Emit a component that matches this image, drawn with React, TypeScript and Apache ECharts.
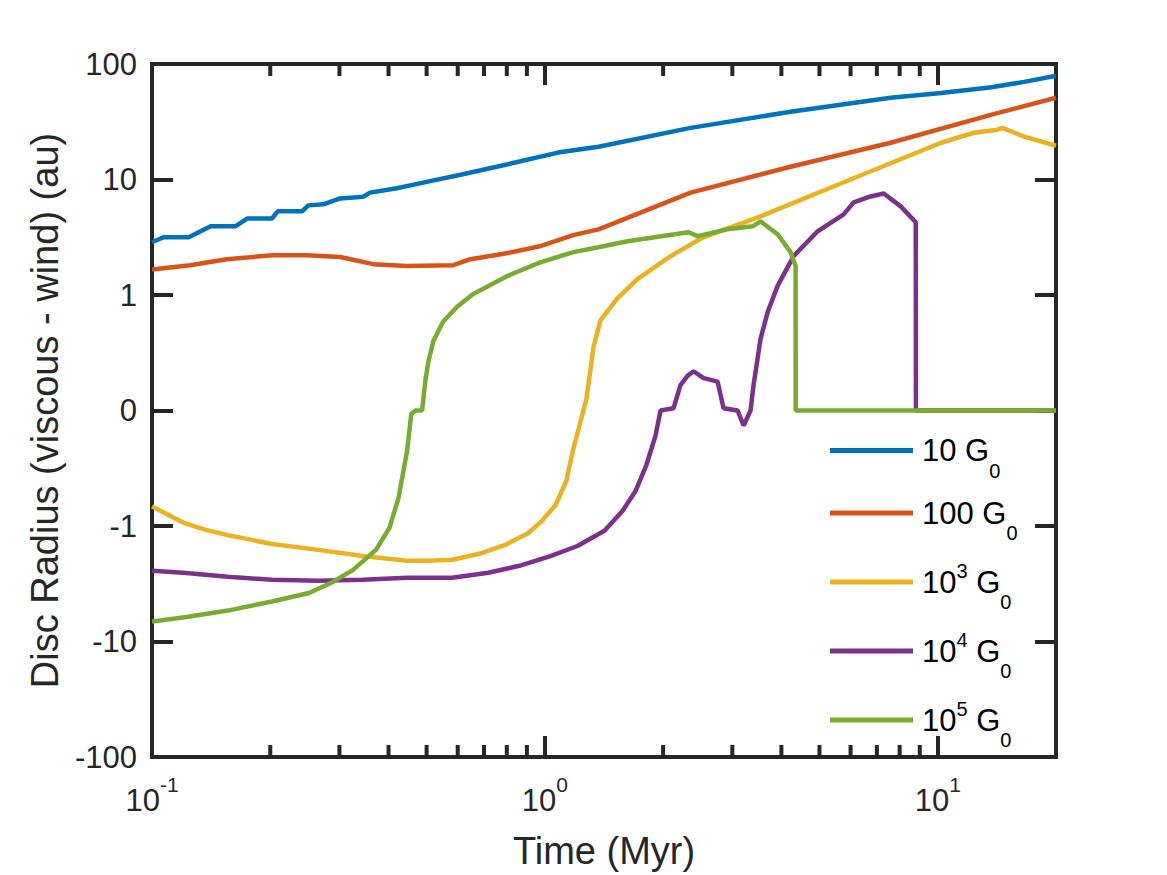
import React, { useEffect, useRef } from "react";
import * as echarts from "echarts";

// ---- Data (time in Myr, disc radius in au) ----
const SERIES_NAMES = ["10 G0", "100 G0", "10^3 G0", "10^4 G0", "10^5 G0"];
const LEGEND_MAIN = ["10", "100", "10", "10", "10"];
const LEGEND_SUP = ["", "", "3", "4", "5"];
const COLORS = ["#0072BD", "#D95319", "#EDB120", "#7E2F8E", "#77AC30"];

const G10: [number, number][] = [
  [0.1, 2.86], [0.107, 3.16], [0.124, 3.16], [0.141, 3.93], [0.163, 3.93],
  [0.175, 4.6], [0.202, 4.6], [0.209, 5.3], [0.241, 5.3], [0.25, 5.97],
  [0.273, 6.1], [0.301, 6.86], [0.345, 7.1], [0.359, 7.7], [0.42, 8.4],
  [0.49, 9.4], [0.61, 11.0], [0.8, 13.5], [1.08, 17.1], [1.37, 19.2],
  [2.35, 28], [4.22, 38.6], [7.59, 51], [10.2, 56], [13.7, 63], [16.6, 70], [20, 79],
];
const G100: [number, number][] = [
  [0.1, 1.66], [0.125, 1.81], [0.155, 2.04], [0.203, 2.21], [0.248, 2.21],
  [0.301, 2.13], [0.366, 1.85], [0.446, 1.78], [0.585, 1.81], [0.646, 2.04],
  [0.8, 2.3], [0.97, 2.64], [1.18, 3.3], [1.37, 3.7], [2.35, 7.7],
  [4.22, 12.9], [7.59, 20.8], [13.65, 36.3], [20, 51],
];
const G1E3: [number, number][] = [
  [0.1, -0.83], [0.108, -0.89], [0.12, -0.97], [0.137, -1.08], [0.156, -1.2],
  [0.202, -1.43], [0.265, -1.61], [0.343, -1.82], [0.446, -2.0], [0.508, -2.0],
  [0.581, -1.96], [0.681, -1.74], [0.793, -1.46], [0.908, -1.15], [0.98, -0.96],
  [1.064, -0.82], [1.134, -0.61], [1.182, -0.33], [1.225, -0.13], [1.276, 0.1],
  [1.33, 0.55], [1.385, 0.78], [1.53, 0.97], [1.72, 1.37], [2.09, 2.17],
  [2.53, 3.16], [3.54, 4.8], [6.0, 10], [10.2, 20.8], [12.35, 25.4],
  [14.2, 27], [14.6, 28], [16.6, 23.5], [20, 19.6],
];
const G1E4: [number, number][] = [
  [0.1, -2.44], [0.12, -2.54], [0.156, -2.75], [0.202, -2.92], [0.265, -2.98],
  [0.343, -2.92], [0.446, -2.81], [0.581, -2.81], [0.718, -2.54], [0.861, -2.21],
  [1.033, -1.82], [1.21, -1.49], [1.418, -1.1], [1.576, -0.87], [1.7, -0.7],
  [1.814, -0.47], [1.912, -0.22], [1.97, 0], [2.126, 0.02], [2.214, 0.22],
  [2.307, 0.3], [2.39, 0.34], [2.534, 0.28], [2.752, 0.25], [2.85, 0.02],
  [3.094, 0], [3.205, -0.13], [3.339, 0], [3.398, 0.22], [3.54, 0.62],
  [3.689, 0.85], [3.912, 1.2], [4.297, 2.17], [4.946, 3.56], [5.762, 4.99],
  [6.109, 6.34], [6.75, 7.13], [7.285, 7.57], [8.05, 5.85], [8.79, 4.26],
  [8.8, 0], [20, 0],
];
const G1E5: [number, number][] = [
  [0.1, -6.7], [0.12, -6.2], [0.156, -5.4], [0.202, -4.5], [0.251, -3.8],
  [0.286, -3.1], [0.325, -2.4], [0.372, -1.6], [0.402, -1.04], [0.424, -0.76],
  [0.446, -0.35], [0.457, -0.03], [0.468, 0], [0.487, 0], [0.496, 0.25],
  [0.505, 0.42], [0.52, 0.6], [0.551, 0.77], [0.599, 0.9], [0.657, 1.02],
  [0.803, 1.46], [0.974, 1.92], [1.182, 2.35], [1.369, 2.59], [1.623, 2.92],
  [2.321, 3.49], [2.446, 3.23], [2.917, 3.71], [3.379, 3.93], [3.54, 4.34],
  [3.912, 3.36], [4.22, 2.35], [4.347, 1.78], [4.35, 0], [20, 0],
];
const ALL_SERIES = [G10, G100, G1E3, G1E4, G1E5];

const Y_TICKS = [-3, -2, -1, 0, 1, 2, 3];
const Y_TICK_LABELS = ["-100", "-10", "-1", "0", "1", "10", "100"];
const X_MINOR_TICKS = [0.2, 0.3, 0.4, 0.5, 0.6, 0.7, 0.8, 0.9, 2, 3, 4, 5, 6, 7, 8, 9];

const FONT = "Liberation Sans, Arial, Helvetica, sans-serif";
const AX = "#262626";

// symmetric log transform: linear in [-1, 1], log outside
const sym = (v: number) =>
  Math.abs(v) <= 1 ? v : Math.sign(v) * (1 + Math.log10(Math.abs(v)));

export default function App() {
  const ref = useRef<HTMLDivElement>(null);
  useEffect(() => {
    if (!ref.current) return;
    const chart = echarts.init(ref.current, undefined, { renderer: "svg" });

    const axisCommonX = {
      type: "log" as const,
      logBase: 10,
      min: 0.1,
      max: 20,
      splitLine: { show: false },
      axisLine: { show: true, onZero: false, lineStyle: { color: AX, width: 4, cap: "square" } },
      axisTick: { show: true, inside: true, length: 21, lineStyle: { color: AX, width: 4 } },
    };
    const axisCommonY = {
      type: "value" as const,
      min: -3,
      max: 3,
      interval: 1,
      splitLine: { show: false },
      axisLine: { show: true, onZero: false, lineStyle: { color: AX, width: 4, cap: "square" } },
      axisTick: { show: true, inside: true, length: 21, lineStyle: { color: AX, width: 4 } },
    };

    const option: any = {
      animation: false,
      backgroundColor: "#fff",
      grid: { left: 152, right: 111, top: 64, bottom: 115, containLabel: false },
      legend: {
        show: true,
        orient: "vertical",
        left: 830,
        top: 435,
        padding: 0,
        itemWidth: 83,
        itemHeight: 5,
        itemGap: 17,
        icon: "rect",
        data: SERIES_NAMES,
        formatter: (name: string) => {
          const i = SERIES_NAMES.indexOf(name);
          const sup = LEGEND_SUP[i] ? `{sup|${LEGEND_SUP[i]}}` : "";
          return `{m|${LEGEND_MAIN[i]}}${sup}{m| G}{sub|0}`;
        },
        textStyle: {
          color: "#000",
          fontFamily: FONT,
          fontSize: 31,
          padding: [0, 0, 0, 4],
          rich: {
            m: { fontSize: 31, lineHeight: 44, color: "#000", fontFamily: FONT },
            sup: { fontSize: 20, height: 22, lineHeight: 22, verticalAlign: "top", color: "#000", fontFamily: FONT },
            sub: { fontSize: 20, height: 4, lineHeight: 4, verticalAlign: "bottom", color: "#000", fontFamily: FONT },
          },
        },
      },
      xAxis: [
        {
          ...axisCommonX,
          position: "bottom",
          name: "Time (Myr)",
          nameLocation: "middle",
          nameGap: 75,
          nameTextStyle: { fontSize: 38, color: AX, fontFamily: FONT },
          axisLabel: {
            show: true,
            margin: 23,
            showMaxLabel: false,
            color: AX,
            fontFamily: FONT,
            formatter: (v: number) => {
              const e = Math.log10(v);
              const r = Math.round(e);
              if (Math.abs(e - r) > 1e-6) return "";
              return `{b|10}{s|${r}}`;
            },
            rich: {
              b: { fontSize: 31, lineHeight: 40, color: AX, fontFamily: FONT },
              s: { fontSize: 21, height: 9, lineHeight: 9, verticalAlign: "top", color: AX, fontFamily: FONT },
            },
          },
        },
        {
          ...axisCommonX,
          position: "top",
          axisLabel: { show: false },
        },
      ],
      yAxis: [
        {
          ...axisCommonY,
          position: "left",
          name: "Disc Radius (viscous - wind) (au)",
          nameLocation: "middle",
          nameGap: 88,
          nameTextStyle: { fontSize: 38, color: AX, fontFamily: FONT },
          axisLabel: {
            show: true,
            margin: 15,
            fontSize: 31,
            color: AX,
            fontFamily: FONT,
            formatter: (v: number) => {
              const i = Y_TICKS.indexOf(Math.round(v));
              return i >= 0 ? Y_TICK_LABELS[i] : "";
            },
          },
        },
        {
          ...axisCommonY,
          position: "right",
          axisLabel: { show: false },
        },
      ],
      series: [
        ...ALL_SERIES.map((d, i) => ({
          name: SERIES_NAMES[i],
          type: "line",
          xAxisIndex: 0,
          yAxisIndex: 0,
          symbol: "none",
          showSymbol: false,
          color: COLORS[i],
          lineStyle: { color: COLORS[i], width: 4.5 },
          itemStyle: { color: COLORS[i] },
          data: d.map(([t, v]) => [t, sym(v)]),
          z: 2 + i,
        })),
        {
          name: "minorTicks",
          type: "custom",
          xAxisIndex: 0,
          yAxisIndex: 0,
          silent: true,
          clip: false,
          z: 10,
          encode: { x: 0, y: 1 },
          data: X_MINOR_TICKS.map((t) => [t, 0]),
          renderItem: (params: any, api: any) => {
            const x = api.coord([api.value(0), 0])[0];
            const cs = params.coordSys;
            const style = { stroke: AX, lineWidth: 4 };
            return {
              type: "group",
              children: [
                { type: "line", shape: { x1: x, y1: cs.y + cs.height, x2: x, y2: cs.y + cs.height - 12 }, style },
                { type: "line", shape: { x1: x, y1: cs.y, x2: x, y2: cs.y + 12 }, style },
              ],
            };
          },
        },
      ],
    };
    chart.setOption(option);
    return () => chart.dispose();
  }, []);

  return (
    <div
      ref={ref}
      style={{ position: "fixed", left: 0, top: 0, width: 1167, height: 875, background: "#fff" }}
    />
  );
}
